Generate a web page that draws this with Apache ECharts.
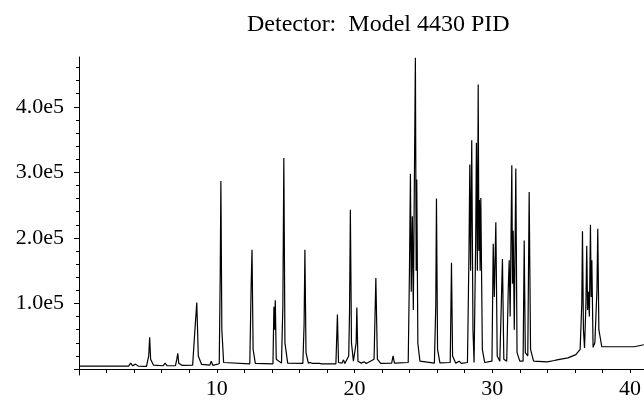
<!DOCTYPE html>
<html>
<head>
<meta charset="utf-8">
<script src="https://cdn.jsdelivr.net/npm/echarts@6/dist/echarts.min.js"></script>
<style>
  html, body { margin: 0; padding: 0; background: #fff; }
  #chart { width: 644px; height: 400px; }
</style>
</head>
<body>
<div id="chart"></div>
<script>
// retention time (min) and detector signal
const times = [
  0, 3.6, 3.75, 3.9, 4.1, 4.3, 4.9, 5.06, 5.13, 5.2, 5.4, 6.1, 6.25, 6.4,
  7.0, 7.1, 7.17, 7.24, 7.5, 8.25, 8.4, 8.55, 8.66, 8.9, 9.5, 9.6, 9.72,
  10.18, 10.25, 10.3, 10.37, 10.5, 12.4, 12.5, 12.56, 12.64, 12.8,
  14.08, 14.15, 14.2, 14.25, 14.32, 14.7, 14.8, 14.87, 14.95, 15.15,
  16.25, 16.34, 16.4, 16.48, 16.65, 16.8, 16.95, 17.45, 17.52, 17.6,
  18.65, 18.76, 18.84, 19.1, 19.2, 19.3, 19.58, 19.64, 19.7, 19.78, 19.92,
  20.12, 20.17, 20.25, 20.5, 20.7, 20.85, 21.42, 21.55, 21.66, 21.9,
  22.7, 22.8, 22.9, 23.9, 23.99, 24.06, 24.12, 24.2, 24.27, 24.42,
  24.48, 24.52, 24.6, 24.75, 25.8, 25.9, 25.95, 26.03, 26.2,
  26.95, 27.04, 27.12, 27.35, 27.6, 27.75, 28.2, 28.31, 28.37, 28.43,
  28.51, 28.6, 28.68, 28.8, 28.85, 28.92, 28.98, 29.03, 29.07, 29.12,
  29.17, 29.28, 29.45, 29.98, 30.07, 30.15, 30.26, 30.36, 30.55, 30.74,
  30.84, 31.05, 31.16, 31.23, 31.3, 31.42, 31.47, 31.52, 31.6, 31.71,
  31.8, 32.0, 32.24, 32.32, 32.4, 32.58, 32.68, 32.78, 33.0, 34.0,
  34.5, 34.6, 34.7, 35.5, 36.07, 36.38, 36.5, 36.55, 36.62, 36.7,
  36.8, 36.86, 36.92, 36.98, 37.05, 37.13, 37.18, 37.23, 37.32, 37.45,
  37.6, 37.66, 37.74, 37.95, 40.3, 40.4, 41
]
const signal = [
  4500, 4500, 9000, 5000, 7500, 4500, 4000, 20000, 48500, 15000, 6000, 5000, 9000, 5000,
  5000, 15000, 24000, 9000, 5500, 6000, 55000, 101500, 20000, 7000, 6000, 12000, 5500,
  8000, 140000, 287000, 60000, 10000, 8000, 130000, 182000, 30000, 8500,
  8000, 95000, 60000, 105000, 15000, 9000, 97000, 322000, 40000, 9000,
  8500, 67000, 182000, 25000, 9000, 10000, 8500, 8500, 10000, 8000,
  8000, 83000, 10000, 9000, 14000, 8500, 20000, 88000, 243000, 40000, 12000,
  40000, 94000, 12000, 9000, 11000, 8500, 15000, 139000, 15000, 8500,
  9000, 20000, 9000, 10000, 150000, 298000, 118000, 233000, 90000, 475000,
  150000, 289000, 39000, 12000, 9000, 97000, 260000, 30000, 9500,
  10000, 162000, 20000, 9000, 12000, 8500, 10000, 176000, 312000, 150000,
  349000, 60000, 10000, 200000, 345000, 150000, 434000, 180000, 258000, 150000,
  261000, 30000, 10000, 12000, 191000, 110000, 224000, 20000, 12000, 168000,
  15000, 12000, 120000, 166000, 80000, 311000, 130000, 211000, 60000, 306000,
  25000, 12000, 12000, 196000, 25000, 20000, 270000, 30000, 12000, 11000,
  13000, 16000, 14000, 17000, 22000, 30000, 100000, 210000, 60000, 32000,
  100000, 188000, 90000, 118000, 80000, 220000, 110000, 166000, 33000, 40000,
  120000, 214000, 60000, 34000, 34000, 37000, 37000
]
const xLabels = [10, 20, 30, 40]
const xTicks = [0, 2, 4, 6, 8, 10, 12, 14, 16, 18, 20, 22, 24, 26, 28, 30, 32, 34, 36, 38, 40]
const yLabels = [100000, 200000, 300000, 400000]
const yMajor = [0, 100000, 200000, 300000, 400000]
const yMinor = [0, 20000, 40000, 60000, 80000, 100000, 120000, 140000, 160000, 180000,
  200000, 220000, 240000, 260000, 280000, 300000, 320000, 340000, 360000, 380000,
  400000, 420000, 440000, 460000]

const pts = times.map((t, i) => [t, signal[i]])
const serif = 'Liberation Serif'
const yMin = -9100, yMax = 476000

let myChart = echarts.init(document.getElementById('chart'))

let option = {
    animation: false,
    title: {
        text: 'Detector:  Model 4430 PID',
        left: 242,
        top: 8,
        textStyle: { fontFamily: serif, fontSize: 24, fontWeight: 'normal', color: '#000' }
    },
    grid: { left: 79, right: 0, top: 57, bottom: 23 },
    xAxis: {
        type: 'value',
        min: 0,
        max: 41,
        axisLine: { lineStyle: { color: '#000', width: 1 } },
        axisTick: { customValues: xTicks, length: 4, lineStyle: { color: '#000' } },
        axisLabel: {
            customValues: xLabels,
            fontFamily: serif, fontSize: 22, color: '#000', margin: 3
        },
        splitLine: { show: false }
    },
    yAxis: [{
        type: 'value',
        min: yMin,
        max: yMax,
        axisLine: { show: true, lineStyle: { color: '#000', width: 1 } },
        axisTick: { customValues: yMajor, length: 5, lineStyle: { color: '#000' } },
        axisLabel: {
            customValues: yLabels,
            formatter: v => (v / 100000).toFixed(1) + 'e5',
            fontFamily: serif, fontSize: 22, color: '#000', margin: 15
        },
        splitLine: { show: false }
    }, {
        // minor ticks
        type: 'value',
        position: 'left',
        min: yMin,
        max: yMax,
        axisLine: { show: false },
        axisTick: { show: true, customValues: yMinor, length: 3, lineStyle: { color: '#000' } },
        axisLabel: { show: false },
        splitLine: { show: false }
    }],
    series: [{
        type: 'line',
        data: pts,
        showSymbol: false,
        lineStyle: { color: '#000', width: 1.2 }
    }]
}
myChart.setOption(option)
</script>
</body>
</html>
